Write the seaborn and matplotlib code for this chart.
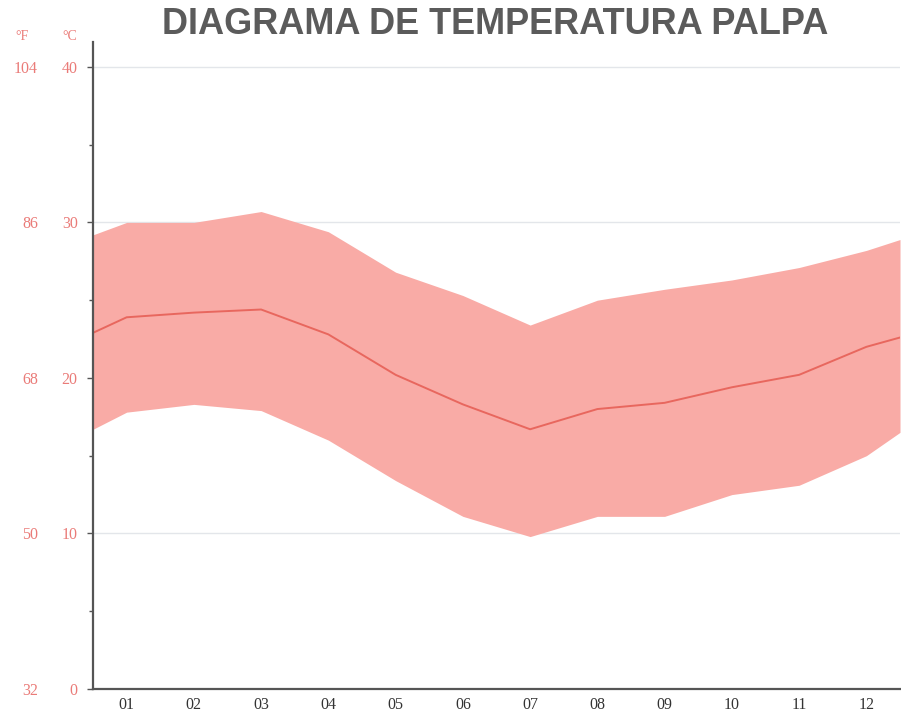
import matplotlib
matplotlib.use("Agg")
import matplotlib.pyplot as plt
import seaborn as sns
import pandas as pd
import numpy as np

# Data; month positions incl. edge points at 0.5 and 12.5
months = [0.5, 1, 2, 3, 4, 5, 6, 7, 8, 9, 10, 11, 12, 12.5]
month_labels = ["01", "02", "03", "04", "05", "06", "07", "08", "09", "10", "11", "12"]
t_mean = [22.9, 23.9, 24.2, 24.4, 22.8, 20.2, 18.3, 16.7, 18.0, 18.4, 19.4, 20.2, 22.0, 22.6]
t_max = [29.2, 30.0, 30.0, 30.7, 29.4, 26.8, 25.3, 23.4, 25.0, 25.7, 26.3, 27.1, 28.2, 28.9]
t_min = [16.7, 17.8, 18.3, 17.9, 16.0, 13.4, 11.1, 9.8, 11.1, 11.1, 12.5, 13.1, 15.0, 16.5]
c_ticks = [0, 10, 20, 30, 40]
f_ticks = [32, 50, 68, 86, 104]

df = pd.DataFrame({"month": months, "mean": t_mean, "max": t_max, "min": t_min})

sns.set_style("white")
plt.rcParams["font.family"] = ["Liberation Serif", "DejaVu Serif"]

red_txt = "#ea7b78"
fill_c = "#f9aba6"
line_c = "#e8675e"

fig = plt.figure(figsize=(9.01, 7.16), dpi=100)
ax = fig.add_axes([93 / 901, (716 - 689) / 716, 807 / 901, (689 - 42) / 716])

for y in [10, 30, 40]:
    ax.axhline(y, color="#e3e6ea", lw=1.0, zorder=0)

ax.fill_between(df["month"], df["min"], df["max"], color=fill_c, lw=0, zorder=1)
sns.lineplot(data=df, x="month", y="mean", ax=ax, color=line_c, lw=1.4, zorder=2)

ax.set_xlim(0.5, 12.5)
ax.set_ylim(0, 41.6)
ax.set_xlabel("")
ax.set_ylabel("")

ax.set_xticks(range(1, 13))
ax.set_xticklabels(month_labels, fontsize=11.5, color="#333333")
ax.set_xticks(np.arange(1.5, 12.5, 1), minor=True)
ax.tick_params(axis="x", which="major", length=0, pad=6)
ax.tick_params(axis="x", which="minor", length=3, direction="in", color="#555555", width=1)

ax.set_yticks(c_ticks)
ax.set_yticklabels([str(v) for v in c_ticks], fontsize=11.5, color=red_txt)
ax.set_yticks([5, 15, 25, 35], minor=True)
ax.tick_params(axis="y", which="major", length=4, direction="out", color="#555555", width=1, pad=7, left=True)
ax.tick_params(axis="y", which="minor", length=3, direction="out", color="#555555", width=1, left=True)

for s in ["top", "right"]:
    ax.spines[s].set_visible(False)
for s in ["left", "bottom"]:
    ax.spines[s].set_color("#555555")
    ax.spines[s].set_linewidth(1.6)

sec = ax.secondary_yaxis(-0.065, functions=(lambda c: c * 9 / 5 + 32, lambda f: (f - 32) * 5 / 9))
sec.set_yticks(f_ticks)
sec.set_yticklabels([str(v) for v in f_ticks], fontsize=11.5, color=red_txt)
sec.tick_params(length=0, pad=2)
sec.spines["left"].set_visible(False)

fig.text(22 / 901, 1 - 36 / 716, "°F", color=red_txt, fontsize=10, ha="center", va="center")
fig.text(70 / 901, 1 - 36 / 716, "°C", color=red_txt, fontsize=10, ha="center", va="center")

fig.text(495 / 901, 1 - 24 / 716, "DIAGRAMA DE TEMPERATURA PALPA", color="#5b5b5b",
         fontsize=26, fontweight="bold", family=["Liberation Sans", "DejaVu Sans"],
         ha="center", va="center")

fig.savefig("out.png", dpi=100)
